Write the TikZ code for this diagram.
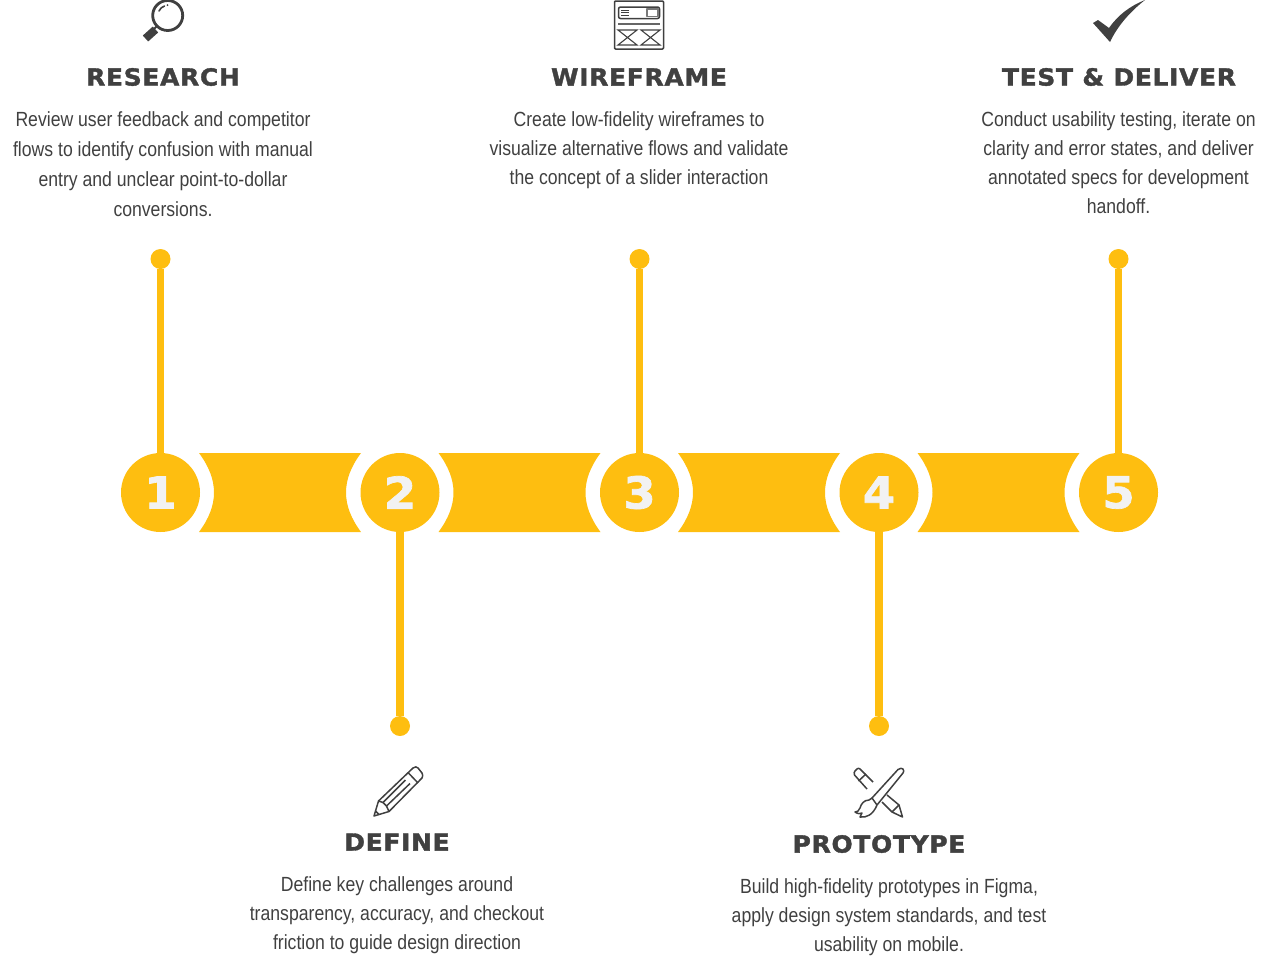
\documentclass[tikz,border=0pt]{standalone}
\usepackage{fontspec}
\setmainfont{Liberation Sans}
\newfontfamily\bodyfont[FakeStretch=0.86]{Liberation Sans}
\newfontfamily\headfont[LetterSpace=3,FakeBold=1.6,FakeStretch=1.06]{DejaVu Sans}
\definecolor{mlyellow}{RGB}{254,190,16}
\definecolor{mldark}{RGB}{64,64,64}
\definecolor{mlpale}{RGB}{242,242,242}
\usetikzlibrary{arrows.meta,positioning,calc}

\begin{document}
\begin{tikzpicture}[
  x=1pt,y=-1pt,
  numdisc/.style={circle,fill=mlyellow,minimum size=79pt,inner sep=0pt,text=mlpale,
    font=\headfont\bfseries\fontsize{44}{44}\selectfont},
  dot/.style={circle,fill=mlyellow,minimum size=20pt,inner sep=0pt},
  stem/.style={line width=7.5pt,mlyellow},
  head/.style={text=mldark,inner sep=0pt,font=\headfont\bfseries\fontsize{23.5}{23.5}\selectfont},
  body/.style={text=mldark,inner sep=0pt,align=center,font=\bodyfont\fontsize{20.5}{29}\selectfont},
  bodywide/.style={body,font=\bodyfont\fontsize{20.5}{30}\selectfont},
  icon/.style={draw=mldark,line width=1.5pt,line join=round}
]
  \useasboundingbox (0,0) rectangle (1282,962);
  % Band segments
  \foreach \bx in {0,239.5,479,718.5}
    \fill[mlyellow] (\bx+199,453) -- (\bx+361,453) .. controls (\bx+341,480) and (\bx+341,505) .. (\bx+361,532)
      -- (\bx+199,532) .. controls (\bx+219,505) and (\bx+219,480) .. (\bx+199,453) -- cycle;
  % Number discs
  \node[numdisc] (num1) at (160.5,492.5) {1};
  \node[numdisc] (num2) at (400,492.5) {2};
  \node[numdisc] (num3) at (639.5,492.5) {3};
  \node[numdisc] (num4) at (879,492.5) {4};
  \node[numdisc] (num5) at (1118.5,492.5) {5};
  % End dots
  \node[dot] (dot1) at (160.5,259) {};
  \node[dot] (dot2) at (400,726) {};
  \node[dot] (dot3) at (639.5,259) {};
  \node[dot] (dot4) at (879,726) {};
  \node[dot] (dot5) at (1118.5,259) {};
  % Stems
  \draw[stem] (dot1) -- (num1);
  \draw[stem] (dot2) -- (num2);
  \draw[stem] (dot3) -- (num3);
  \draw[stem] (dot4) -- (num4);
  \draw[stem] (dot5) -- (num5);
  % Research
  \node[head] (headres) at (163,77) {RESEARCH};
  \node[bodywide] (textres) at (163,164.5) {Review user feedback and competitor\\flows to identify confusion with manual\\entry and unclear point-to-dollar\\conversions.};
  \draw[mldark,line width=2.8pt] (167.7,15.5) circle (15);
  \draw[mldark,line width=1.6pt,line cap=round] (159,11) .. controls (160,8.5) and (162,7) .. (164.5,6);
  \fill[mldark] (167.5,5) circle (1);
  \draw[mldark,line width=2pt] (157,26) -- (153,30);
  \draw[mldark,line width=8pt] (155.5,29.5) -- (145.5,38.5);
  % Wireframe
  \node[head] (headwire) at (639,77) {WIREFRAME};
  \node[body] (textwire) at (639,150) {Create low-fidelity wireframes to\\visualize alternative flows and validate\\the concept of a slider interaction};
  \draw[icon,rounded corners=1pt] (614.5,1) rectangle (663.5,49);
  \draw[icon,rounded corners=2pt] (618.5,7) rectangle (659.5,18.5);
  \draw[icon,draw=mldark!70] (647,9) rectangle (658,16.5);
  \foreach \ly in {10,12.5,15} \draw[mldark,line width=0.9pt] (621,\ly) -- (629,\ly);
  \draw[icon,draw=mldark!80] (618,24) -- (660,24);
  \foreach \lx in {618,641} \draw[mldark,line width=1.1pt] (\lx,30) -- (\lx+19,30) -- (\lx,45) -- (\lx+19,45) -- cycle;
  % Test and deliver
  \node[head] (headtest) at (1119,77) {TEST \& DELIVER};
  \node[body] (texttest) at (1118.5,162.5) {Conduct usability testing, iterate on\\clarity and error states, and deliver\\annotated specs for development\\handoff.};
  \fill[mldark] (1093,23) -- (1098,20) -- (1109,28) .. controls (1118,15) and (1130,6) .. (1145,0)
    .. controls (1131,11) and (1118,25) .. (1110,42) -- cycle;
  % Define
  \node[head] (headdef) at (397,842) {DEFINE};
  \node[body] (textdef) at (397,915) {Define key challenges around\\transparency, accuracy, and checkout\\friction to guide design direction};
  \draw[icon] (374,816) -- (378.5,801) -- (413,768) .. controls (415,766) and (417,767) .. (418,768)
    -- (422,773) .. controls (423,775) and (423,776) .. (422,778) -- (389,811.5) -- cycle;
  \draw[icon] (408,772.5) -- (418,783);
  \draw[icon] (378.5,801) -- (383,802.5) -- (405.5,780) (389,811.5) -- (386.5,806) -- (410,783.5);
  \draw[icon] (383,802.5) -- (386.5,806);
  \draw[icon] (375.5,811) -- (379,814.5);
  % Prototype
  \node[head] (headproto) at (879,844) {PROTOTYPE};
  \node[body] (textproto) at (889,917) {Build high-fidelity prototypes in Figma,\\apply design system standards, and test\\usability on mobile.};
  \draw[icon] (867,789) -- (854.5,775) .. controls (854,773) and (854,772) .. (855,771) -- (857,769) .. controls (858,768) and (859,768) .. (860,769) -- (873,782);
  \draw[icon] (858.5,781) -- (866,774);
  \draw[icon] (887,795) -- (899,805) -- (902.5,817) -- (892,812) -- (882,802);
  \draw[icon] (892,812) -- (899,805);
  \draw[icon] (872,798) -- (898,769.5) .. controls (900,768) and (902,768) .. (903,769) .. controls (904,770) and (904,772) .. (903,773) -- (877,805);
  \draw[icon] (869,800) .. controls (864,800) and (861,804) .. (860,808) .. controls (859,811) and (857,812) .. (855,812)
    .. controls (858,814) and (860,814) .. (862,813) -- (860,817) .. controls (866,818) and (873,815) .. (877,805) -- (872,798) -- cycle;
\end{tikzpicture}
\end{document}
